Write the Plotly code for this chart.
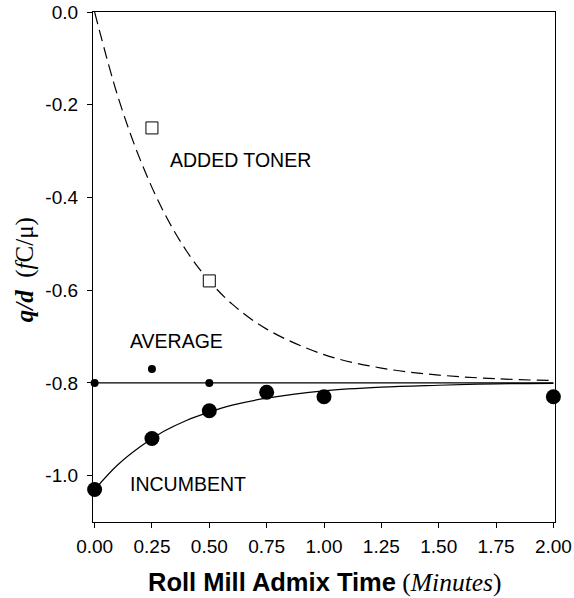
import plotly.graph_objects as go

# ---- data ----
time_incumbent = [0.0, 0.25, 0.5, 0.75, 1.0, 2.0]
q_incumbent = [-1.03, -0.92, -0.86, -0.82, -0.83, -0.83]

time_average = [0.0, 0.25, 0.5]
q_average = [-0.80, -0.77, -0.80]

time_added = [0.25, 0.5]
q_added = [-0.25, -0.58]

# fitted curves
curve_time = [0.0, 0.1, 0.2, 0.3, 0.4, 0.5, 0.6, 0.75, 1.0, 1.25, 1.5, 1.75, 2.0]
added_fit = [0.0, -0.18, -0.32, -0.43, -0.515, -0.58, -0.63, -0.684, -0.739, -0.768, -0.783, -0.791, -0.795]
incumbent_fit = [-1.03, -0.977, -0.937, -0.905, -0.881, -0.863, -0.848, -0.833, -0.817, -0.809, -0.805, -0.802, -0.801]

average_line_time = [0.0, 2.0]
average_line_q = [-0.80, -0.80]

x_ticks = [0, 0.25, 0.5, 0.75, 1.0, 1.25, 1.5, 1.75, 2.0]
x_tick_text = ["0.00", "0.25", "0.50", "0.75", "1.00", "1.25", "1.50", "1.75", "2.00"]
y_ticks = [0.0, -0.2, -0.4, -0.6, -0.8, -1.0]
y_tick_text = ["0.0", "-0.2", "-0.4", "-0.6", "-0.8", "-1.0"]

labels = ["ADDED TONER", "AVERAGE", "INCUMBENT"]
label_x = [0.322, 0.147, 0.146]
label_y = [-0.319, -0.709, -1.018]

SANS = "Liberation Sans, Arial, sans-serif"
SERIF = "Liberation Serif, Times New Roman, serif"

fig = go.Figure()

fig.add_trace(go.Scatter(x=curve_time, y=added_fit, mode="lines",
                         line=dict(color="black", width=1.2, dash="12px,6px", shape="spline"),
                         showlegend=False, hoverinfo="skip"))
fig.add_trace(go.Scatter(x=curve_time, y=incumbent_fit, mode="lines",
                         line=dict(color="black", width=1.2, shape="spline"),
                         showlegend=False, hoverinfo="skip"))
fig.add_trace(go.Scatter(x=average_line_time, y=average_line_q, mode="lines",
                         line=dict(color="black", width=1.2),
                         showlegend=False, hoverinfo="skip"))
fig.add_trace(go.Scatter(x=time_incumbent, y=q_incumbent, mode="markers",
                         marker=dict(symbol="circle", size=15, color="black"),
                         showlegend=False, cliponaxis=False))
fig.add_trace(go.Scatter(x=time_average, y=q_average, mode="markers",
                         marker=dict(symbol="circle", size=8, color="black"),
                         showlegend=False, cliponaxis=False))
fig.add_trace(go.Scatter(x=time_added, y=q_added, mode="markers",
                         marker=dict(symbol="square", size=12, color="white",
                                     line=dict(color="black", width=1)),
                         showlegend=False, cliponaxis=False))

for t, lx, ly in zip(labels, label_x, label_y):
    fig.add_annotation(x=lx, y=ly, xref="x", yref="y", text=t, showarrow=False,
                       xanchor="left", yanchor="middle",
                       font=dict(family=SANS, size=19.5, color="black"))

# axis titles
fig.add_annotation(xref="paper", yref="paper", x=-0.148, y=0.495,
                   text="<b><i>q/d</i></b>  (<i>f</i>C/\u03bc)", textangle=-90,
                   showarrow=False, xanchor="center", yanchor="middle",
                   font=dict(family=SERIF, size=25, color="black"))
fig.add_annotation(xref="paper", yref="paper", x=0.5, y=-0.118,
                   text="<span style=\"font-family:Liberation Sans, Arial\"><b>Roll Mill Admix Time</b></span> (<i>Minutes</i>)",
                   showarrow=False, xanchor="center", yanchor="middle",
                   font=dict(family=SERIF, size=25.5, color="black"))

fig.update_xaxes(range=[-0.007, 2.007], tickvals=x_ticks, ticktext=x_tick_text,
                 ticks="outside", ticklen=5, tickwidth=1, tickcolor="black",
                 showline=True, linecolor="black", linewidth=1.2, mirror=True,
                 showgrid=False, zeroline=False, ticklabelstandoff=2, automargin=False,
                 tickfont=dict(family=SANS, size=19, color="black"))
fig.update_yaxes(range=[-1.1, 0.0], tickvals=y_ticks, ticktext=y_tick_text,
                 ticks="outside", ticklen=5, tickwidth=1, tickcolor="black",
                 showline=True, linecolor="black", linewidth=1.2, mirror=True,
                 showgrid=False, zeroline=False, ticklabelstandoff=5, automargin=False,
                 tickfont=dict(family=SANS, size=19, color="black"))

fig.update_layout(width=574, height=598,
                  margin=dict(l=93, r=19, t=12, b=76, autoexpand=False),
                  plot_bgcolor="white", paper_bgcolor="white",
                  showlegend=False)

fig.write_html("out.html")
